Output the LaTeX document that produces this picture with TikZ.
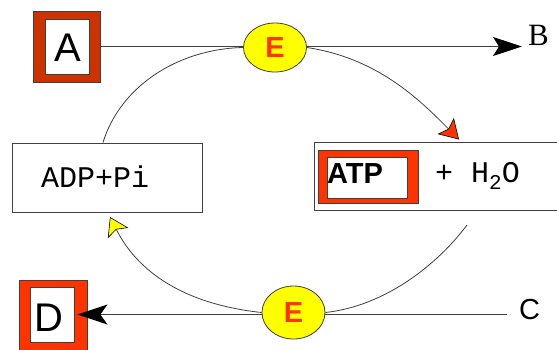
\documentclass[tikz,border=0pt]{standalone}
\usepackage{fontspec}
\setmainfont{Liberation Sans}
\newfontfamily\monof{Liberation Mono}
\newfontfamily\seriff{Liberation Serif}
\usetikzlibrary{arrows.meta,shapes.geometric}
\definecolor{darkred}{HTML}{CC3300}
\definecolor{brightred}{HTML}{FF3300}
\definecolor{eyellow}{HTML}{FFFF00}
\definecolor{linegray}{HTML}{404040}
\tikzset{
  framebox/.style={draw=linegray, line width=0.8pt, inner sep=0pt},
  plainbox/.style={draw=linegray, line width=1pt, fill=white, inner sep=0pt},
  bigletter/.style={inner sep=0pt, font=\fontsize{40}{40}\selectfont},
  monotext/.style={inner sep=0pt, anchor=base west, font=\monof\fontsize{30}{30}\selectfont},
  enzyme/.style={ellipse, draw=linegray, line width=0.8pt, fill=eyellow, inner sep=0pt,
    text=brightred, font=\bfseries\fontsize{29}{29}\selectfont},
  mainline/.style={draw=linegray, line width=1.4pt},
  arcline/.style={draw=linegray, line width=0.8pt},
}
\begin{document}
\begin{tikzpicture}[x=1pt,y=-1pt]
\clip (0,0) rectangle (557,349);
\fill[white] (0,0) rectangle (557,349);

% A
\node[framebox, fill=darkred, minimum width=67pt, minimum height=71pt] (Aframe) at (66.5,46.5) {};
\node[framebox, fill=white, minimum width=44pt, minimum height=55pt] (Abox) at (67,46.5) {};
\node[bigletter] (A) at (67.5,48) {A};
\node[inner sep=0pt, anchor=base west, font=\seriff\fontsize{31}{31}\selectfont] (B) at (528,45) {B};
\coordinate (Btip) at (522,46.5);

% ADP + Pi
\node[plainbox, minimum width=190pt, minimum height=69pt] (ADP) at (107,177.5) {};
\node[monotext] (ADPt) at (41,187) {ADP+Pi};

% ATP + H2O
\node[plainbox, minimum width=246pt, minimum height=68pt] (ATPbox) at (437,176) {};
\node[framebox, fill=brightred, minimum width=100pt, minimum height=53pt] (ATPframe) at (368,176.5) {};
\node[framebox, fill=white, minimum width=80pt, minimum height=41pt] (ATPin) at (367,177.5) {};
\node[inner sep=0pt, anchor=base west, font=\bfseries\fontsize{29}{29}\selectfont] (ATP) at (327,183) {ATP};
\node[monotext] (H2O) at (435,182) {+ H\raisebox{-7pt}{\fontsize{21}{21}\selectfont 2}O};

% D and C
\node[framebox, fill=brightred, minimum width=68pt, minimum height=75pt] (Dframe) at (53,317.5) {};
\node[framebox, fill=white, minimum width=44pt, minimum height=55pt] (Dbox) at (52,314.5) {};
\node[bigletter] (D) at (48.5,317.5) {D};
\node[inner sep=0pt, anchor=base west, font=\fontsize{29}{29}\selectfont] (C) at (519,319) {C};
\coordinate (Cend) at (507,314.5);
\coordinate (Dtip) at ([xshift=3pt]Dbox.east);

% straight lines
\draw[mainline, -{Stealth[length=29pt,width=19pt,inset=6pt,fill=black,color=black]}] (Aframe.east) -- (Btip);
\draw[mainline, -{Stealth[length=30pt,width=20pt,inset=7pt,fill=black,color=black]}] (Cend) -- (Dtip);

% enzymes
\node[enzyme, minimum width=63pt, minimum height=49pt] (Etop) at (275,47.5) {E};
\node[enzyme, minimum width=63pt, minimum height=53pt] (Ebot) at (293.5,312.5) {E};

% cycle arcs
\coordinate (ADPend) at ([xshift=-4pt]ADP.north);
\coordinate (ATPend) at ([xshift=22pt,yshift=2pt]ATPbox.north);
\coordinate (BRstart) at (467,225);
\coordinate (BLend) at (110,217);
\draw[arcline] (Etop.west) .. controls (177,49) and (120,87) .. (ADPend);
\draw[arcline, -{Stealth[length=19pt,width=23pt,inset=4pt,fill=brightred,color=black,line width=0.6pt]}]
  (Etop.east) .. controls (376,58) and (417,97) .. (ATPend);
\draw[arcline] (BRstart) .. controls (437,265) and (385,306) .. (Ebot.east);
\draw[arcline, -{Stealth[length=18pt,width=23pt,inset=4pt,fill=eyellow,color=black,line width=0.6pt]}]
  (Ebot.west) .. controls (192,305) and (140.6,277.4) .. (BLend);
\end{tikzpicture}
\end{document}
